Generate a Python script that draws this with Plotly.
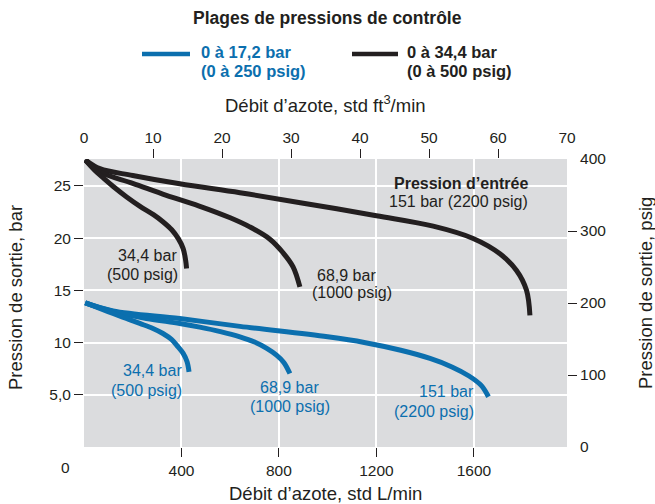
import plotly.graph_objects as go

# Nitrogen flow (std L/min) vs. outlet pressure (bar) for each inlet pressure
# Range 0 to 34,4 bar (black)
blk_151_flow = [5, 65, 200, 393, 640, 900, 1200, 1433, 1597, 1707, 1775, 1816, 1830]
blk_151_pres = [27.5, 26.65, 26.0, 25.2, 24.35, 23.35, 22.15, 21.15, 19.97, 18.5, 16.9, 15.0, 12.6]

blk_689_flow = [5, 65, 200, 338, 470, 600, 680, 763, 817, 858, 886]
blk_689_pres = [27.5, 26.34, 25.25, 24.1, 23.1, 21.95, 21.08, 19.9, 18.6, 17.25, 15.33]

blk_344_flow = [5, 40, 80, 120, 175, 230, 285, 325, 360, 387, 407, 417, 421]
blk_344_pres = [27.5, 26.6, 25.75, 24.95, 23.95, 23.05, 22.25, 21.55, 20.8, 19.95, 19.0, 17.9, 17.1]

# Range 0 to 17,2 bar (blue)
blu_151_flow = [5, 119, 393, 640, 1000, 1150, 1300, 1420, 1510, 1580, 1630, 1660]
blu_151_pres = [13.81, 13.04, 12.3, 11.55, 10.55, 10.01, 9.26, 8.48, 7.67, 6.8, 5.9, 4.81]

blu_689_flow = [5, 119, 256, 393, 475, 560, 640, 700, 750, 790, 820, 845]
blu_689_pres = [13.81, 12.98, 12.31, 11.83, 11.48, 11.05, 10.55, 10.05, 9.45, 8.8, 8.1, 7.04]

blu_344_flow = [5, 65, 119, 174, 229, 283, 324, 359, 386, 407, 423, 431]
blu_344_pres = [13.81, 13.27, 12.79, 12.31, 11.83, 11.35, 10.87, 10.3, 9.59, 8.96, 8.16, 7.2]

# Axis ticks
x_lpm_ticks = [400, 800, 1200, 1600]
x_scfm_ticks = [10, 20, 30, 40, 50, 60]
x_scfm_end = [0, 70]
y_bar_ticks = [5, 10, 15, 20, 25]
y_bar_text = ["5,0", "10", "15", "20", "25"]
y_psig_ticks = [100, 200, 300]
y_psig_end = [0, 400]

LPM_PER_SCFM = 28.3168
BAR_PER_PSI = 0.0689476
X_MAX = 70 * LPM_PER_SCFM
Y_MAX = 400 * BAR_PER_PSI

BLUE = "#0b6fae"
BLACK = "#231f20"
GRID_BG = "#dbdcde"
FONT = "Liberation Sans, Arial, sans-serif"

fig = go.Figure()

curves = [
    (blu_151_flow, blu_151_pres, BLUE, "0 à 17,2 bar – 151 bar"),
    (blu_689_flow, blu_689_pres, BLUE, "0 à 17,2 bar – 68,9 bar"),
    (blu_344_flow, blu_344_pres, BLUE, "0 à 17,2 bar – 34,4 bar"),
    (blk_151_flow, blk_151_pres, BLACK, "0 à 34,4 bar – 151 bar"),
    (blk_689_flow, blk_689_pres, BLACK, "0 à 34,4 bar – 68,9 bar"),
    (blk_344_flow, blk_344_pres, BLACK, "0 à 34,4 bar – 34,4 bar"),
]
for fx, fy, col, name in curves:
    fig.add_trace(go.Scatter(
        x=fx, y=fy, mode="lines", name=name, showlegend=False,
        line=dict(color=col, width=5, shape="spline", smoothing=1.0),
        hoverinfo="skip",
    ))

# Empty traces so the secondary axes are drawn
fig.add_trace(go.Scatter(x=[None], y=[None], xaxis="x2", yaxis="y2", showlegend=False))
fig.add_trace(go.Scatter(x=[None], y=[None], xaxis="x3", yaxis="y3", showlegend=False))

tick_font = dict(family=FONT, size=15.5, color=BLACK)
axis_common = dict(ticks="outside", ticklen=9, tickwidth=1.2, tickcolor=BLACK,
                   showline=False, zeroline=False, tickfont=tick_font, fixedrange=True)

fig.update_layout(
    width=655, height=504,
    margin=dict(l=84, r=88, t=159, b=57, pad=0),
    paper_bgcolor="white",
    plot_bgcolor=GRID_BG,
    font=dict(family=FONT, color=BLACK),
    xaxis=dict(range=[0, X_MAX], tickvals=x_lpm_ticks, showgrid=True,
               gridcolor="white", gridwidth=1.6, **axis_common),
    yaxis=dict(range=[0, Y_MAX], tickvals=y_bar_ticks, ticktext=y_bar_text,
               showgrid=True, gridcolor="white", gridwidth=1.6, **axis_common),
    xaxis2=dict(range=[0, 70], overlaying="x", side="top", anchor="y2",
                tickvals=x_scfm_ticks, showgrid=False, **axis_common),
    yaxis2=dict(range=[0, 400], overlaying="y", side="right", anchor="x2",
                tickvals=y_psig_ticks, showgrid=False, **axis_common),
    xaxis3=dict(range=[0, 70], overlaying="x", side="top", anchor="y3",
                tickvals=x_scfm_end, showgrid=False,
                **{**axis_common, "tickcolor": "rgba(0,0,0,0)"}),
    yaxis3=dict(range=[0, 400], overlaying="y", side="right", anchor="x3",
                tickvals=y_psig_end, showgrid=False,
                **{**axis_common, "tickcolor": "rgba(0,0,0,0)"}),
    showlegend=False,
)

# Pixel helpers for positioning text in paper coordinates
PL, PR, PT, PB = 84, 655 - 88, 159, 504 - 57
def px(xp):
    return (xp - PL) / (PR - PL)
def py(yp):
    return (PB - yp) / (PB - PT)

ann = []
def text(x, y, s, size, color=BLACK, xanchor="center", ref="paper", angle=0):
    ann.append(dict(x=x, y=y, xref=ref if ref == "paper" else "x",
                    yref=ref if ref == "paper" else "y",
                    text=s, showarrow=False, xanchor=xanchor, yanchor="middle",
                    textangle=angle,
                    font=dict(family=FONT, size=size, color=color)))

# Title and legend
text(px(327), py(18), "<b>Plages de pressions de contrôle</b>", 17.5)
text(px(199), py(52), "<b>0 à 17,2 bar</b>", 16.5, BLUE, "left")
text(px(199), py(71), "<b>(0 à 250 psig)</b>", 16.5, BLUE, "left")
text(px(405), py(52), "<b>0 à 34,4 bar</b>", 16.5, BLACK, "left")
text(px(405), py(71), "<b>(0 à 500 psig)</b>", 16.5, BLACK, "left")

shapes = [
    dict(type="line", xref="paper", yref="paper", x0=px(142), x1=px(190),
         y0=py(54), y1=py(54), line=dict(color=BLUE, width=4.6)),
    dict(type="line", xref="paper", yref="paper", x0=px(352), x1=px(398),
         y0=py(54), y1=py(54), line=dict(color=BLACK, width=4.6)),
]

# Axis titles
text(px(325.5), py(104), "Débit d’azote, std ft<sup>3</sup>/min", 18.5)
text(px(325.5), py(493), "Débit d’azote, std L/min", 18.5)
text(px(15), py(298), "Pression de sortie, bar", 18.5, angle=-90)
text(px(645), py(293), "Pression de sortie, psig", 18.5, angle=-90)
text(px(65), py(467), "0", 15.5)

# Curve labels (inlet pressure), in data coordinates
text(390, 18.37, "34,4 bar", 16, BLACK, "right", "data")
text(392, 16.55, "(500 psig)", 16, BLACK, "right", "data")
text(1077, 16.45, "68,9 bar", 16, BLACK, "center", "data")
text(1098, 14.76, "(1000 psig)", 16, BLACK, "center", "data")
text(1832, 25.23, "<b>Pression d’entrée</b>", 16, BLACK, "right", "data")
text(1832, 23.47, "151 bar (2200 psig)", 16, BLACK, "right", "data")
text(409, 7.30, "34,4 bar", 16, BLUE, "right", "data")
text(410, 5.45, "(500 psig)", 16, BLUE, "right", "data")
text(843, 5.71, "68,9 bar", 16, BLUE, "center", "data")
text(845, 3.92, "(1000 psig)", 16, BLUE, "center", "data")
text(1607, 5.29, "151 bar", 16, BLUE, "right", "data")
text(1607, 3.37, "(2200 psig)", 16, BLUE, "right", "data")

fig.update_layout(annotations=ann, shapes=shapes)
fig.write_html("out.html")
